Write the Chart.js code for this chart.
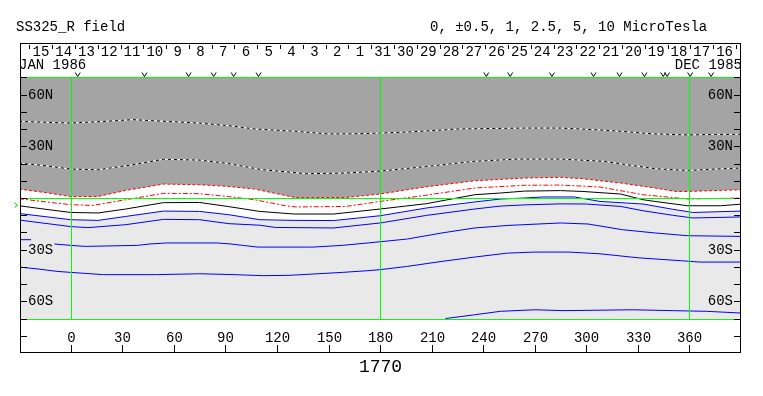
<!DOCTYPE html>
<html>
<head>
<meta charset="utf-8">
<script src="https://cdn.jsdelivr.net/npm/chart.js@4/dist/chart.umd.min.js"></script>
<style>
html, body { margin: 0; padding: 0; background: #fff; }
canvas { display: block; }
</style>
</head>
<body>
<canvas id="fieldChart" width="763" height="396"></canvas>
<script>
// contour lines, as [longitude, latitude]
const dottedNorth = [[-30,44.5],[-15,44.0],[0,43.5],[20,44.5],[36,45.5],[55,44.5],[75,43.5],[92,42.0],[107,40.1],[131,38.7],[150,37.2],[165,37.3],[180,37.7],[196,38.3],[226,40.1],[264,40.6],[285,40.6],[308,39.5],[321,38.7],[333,37.7],[340,37.2],[359,36.6],[375,36.9],[390,37.0]];
const dottedMid = [[-30,20.3],[-15,18.8],[0,16.8],[16,16.4],[36,19.3],[54,22.5],[75,22.0],[92,20.0],[110,16.6],[137,14.1],[160,14.5],[180,15.6],[207,18.3],[235,21.3],[260,22.6],[285,22.6],[310,21.3],[340,17.0],[359,16.0],[375,16.8],[390,17.4]];
const redDotted = [[-30,5.2],[-13,2.9],[0,0.8],[16,0.9],[32,4.4],[54,8.1],[75,7.7],[91,6.8],[107,5.2],[120,2.5],[131,0.2],[160,0.3],[180,2.3],[206,6.4],[235,10.0],[264,11.6],[285,12.0],[298,11.2],[320,8.7],[331,7.1],[340,5.8],[352,3.8],[359,3.8],[374,4.3],[390,4.8]];
const redDashDot = [[-30,-0.4],[-15,-2.2],[0,-3.9],[13,-4.3],[32,-1.0],[54,2.7],[75,2.5],[91,0.9],[107,-1.0],[125,-4.5],[131,-5.2],[160,-4.9],[180,-2.0],[206,1.5],[235,5.8],[264,7.4],[285,7.5],[308,6.4],[333,1.9],[353,0.0],[359,-0.6],[375,-0.3],[390,0.0]];
const zeroLine = [[-30,-4.5],[-15,-6.5],[0,-8.4],[16,-8.7],[32,-6.4],[54,-2.7],[75,-2.6],[92,-5.0],[110,-7.8],[130,-9.3],[153,-9.3],[180,-6.4],[207,-3.3],[235,1.9],[250,2.9],[264,4.0],[285,4.3],[298,3.8],[320,2.3],[333,-1.0],[340,-2.0],[359,-4.5],[378,-4.5],[390,-3.6]];
const blue1 = [[-30,-9.0],[-15,-10.8],[0,-12.6],[16,-13.0],[32,-10.7],[54,-7.6],[75,-7.8],[92,-9.7],[110,-12.6],[130,-13.0],[153,-13.1],[180,-10.3],[207,-5.8],[235,-2.3],[250,-0.6],[264,0.0],[275,0.6],[293,0.6],[308,-2.0],[333,-3.5],[350,-6.5],[362,-8.4],[390,-7.6]];
const blue2 = [[-30,-12.8],[-15,-14.7],[0,-16.6],[10,-17.2],[32,-15.5],[54,-12.4],[75,-12.6],[92,-14.9],[110,-15.8],[119,-17.1],[153,-17.4],[180,-14.5],[207,-10.1],[235,-6.4],[250,-4.7],[264,-4.0],[285,-3.4],[300,-3.5],[320,-4.9],[333,-7.4],[350,-10.0],[362,-11.6],[390,-11.0]];
const blue3 = [[-30,-24.2],[-23,-24.2],[-16,null],[-9.5,-26.7],[0,-27.5],[8.5,-28.1],[39,-27.5],[46,-26.7],[56,-26.1],[85,-26.1],[93,-26.7],[100,-27.5],[109,-28.5],[141,-28.5],[158,-27.5],[173,-26.1],[180,-25.4],[196,-23.8],[216,-20.3],[235,-17.4],[255,-15.9],[285,-14.5],[301,-15.1],[321,-18.4],[340,-20.3],[359,-21.9],[390,-22.3]];
const blue4 = [[-30,-40.1],[-19,-41.2],[-8,-42.6],[0,-43.2],[19,-44.5],[50,-44.5],[75,-44.0],[95,-44.5],[112,-45.1],[127,-44.9],[142,-44.1],[158,-43.2],[173,-42.2],[180,-41.6],[196,-39.7],[216,-36.8],[235,-34.3],[254,-32.0],[270,-31.4],[290,-31.4],[308,-32.4],[331,-34.8],[355,-36.4],[366,-37.2],[390,-37.2]];
const blue5 = [[218,-70],[235,-67.8],[250,-65.8],[270,-64.9],[287,-65.4],[327,-64.9],[350,-65.4],[370,-65.8],[390,-66.8]];

// axes
const lonTicks = [0, 30, 60, 90, 120, 150, 180, 210, 240, 270, 300, 330, 360];
const latTicks = [-80, -70, -60, -50, -40, -30, -20, -10, 0, 10, 20, 30, 40, 50, 60, 70];
const latLabels = { '60': '60N', '30': '30N', '-30': '30S', '-60': '60S' };
const greenLons = [0, 180, 360];
const greenLats = [70, 0, -70];
const equatorMark = -4.2;

// date strip along the top
const dayLabels = ['15','14','13','12','11','10','9','8','7','6','5','4','3','2','1','31','30','29','28','27','26','25','24','23','22','21','20','19','18','17','16'];
const dayEdges = [-24.0,-10.7,2.5,15.8,29.0,42.3,55.6,68.8,82.1,95.3,108.6,121.9,135.1,148.4,161.6,174.9,188.2,201.4,214.7,227.9,241.2,254.5,267.7,281.0,294.2,307.5,320.8,334.0,347.3,360.5,373.8,387.1];
const passLons = [4.1, 42.9, 68.6, 83.2, 94.8, 109.3, 241.8, 255.7, 280.0, 304.2, 319.3, 333.8, 344.7, 347.0, 360.4, 372.6];

const toPts = arr => arr.map(p => ({ x: p[0], y: p[1] }));
const FONT = '14px "Liberation Mono", "DejaVu Sans Mono", monospace';

function seg(ctx, x1, y1, x2, y2) {
    ctx.beginPath();
    ctx.moveTo(x1, y1);
    ctx.lineTo(x2, y2);
    ctx.stroke();
}

const overlay = {
    id: 'overlay',
    afterDatasetsDraw(chart) {
        const { ctx, chartArea: a, scales: { x, y } } = chart;
        const px = v => Math.round(x.getPixelForValue(v)) + 0.5;
        const py = v => Math.round(y.getPixelForValue(v)) + 0.5;
        ctx.save();
        ctx.lineWidth = 1;

        // green reference lines
        ctx.strokeStyle = '#00ff00';
        greenLats.forEach(v => seg(ctx, a.left, py(v), a.right, py(v)));
        greenLons.forEach(v => seg(ctx, px(v), py(70), px(v), py(-70)));

        // frame
        ctx.strokeStyle = '#000';
        ctx.strokeRect(a.left + 0.5, a.top + 0.5, a.right - a.left - 1, a.bottom - a.top - 1);

        // latitude ticks + labels, both sides, inside
        ctx.font = FONT;
        ctx.fillStyle = '#000';
        ctx.textBaseline = 'middle';
        latTicks.forEach(v => {
            const yy = py(v);
            seg(ctx, a.left, yy, a.left + 7, yy);
            seg(ctx, a.right - 7, yy, a.right, yy);
            const lab = latLabels[String(v)];
            if (lab) {
                ctx.textAlign = 'left';
                ctx.fillText(lab, a.left + 8, yy);
                ctx.textAlign = 'right';
                ctx.fillText(lab, a.right - 8, yy);
            }
        });

        // longitude ticks + labels
        ctx.textAlign = 'center';
        lonTicks.forEach(v => {
            const xx = px(v);
            seg(ctx, xx, a.bottom - 8, xx, a.bottom);
            ctx.fillText(String(v), xx, a.bottom - 15);
        });

        // date strip
        ctx.textBaseline = 'alphabetic';
        dayEdges.forEach(v => seg(ctx, px(v), a.top + 2, px(v), a.top + 6));
        dayLabels.forEach((d, i) => {
            const cx = (x.getPixelForValue(dayEdges[i]) + x.getPixelForValue(dayEdges[i + 1])) / 2;
            ctx.fillText(d, cx, a.top + 13);
        });
        ctx.textAlign = 'left';
        ctx.fillText('JAN 1986', a.left - 1, a.top + 26);
        ctx.textAlign = 'right';
        ctx.fillText('DEC 1985', a.right + 1, a.top + 26);

        // pass markers
        passLons.forEach(v => {
            const xx = x.getPixelForValue(v);
            ctx.beginPath();
            ctx.moveTo(xx - 2.5, a.top + 29.5);
            ctx.lineTo(xx, a.top + 33.5);
            ctx.lineTo(xx + 2.5, a.top + 29.5);
            ctx.stroke();
        });

        // equator marker outside the left edge
        ctx.strokeStyle = '#00cc00';
        const ey = y.getPixelForValue(equatorMark);
        ctx.beginPath();
        ctx.moveTo(14.5, ey - 2.5);
        ctx.lineTo(17.5, ey);
        ctx.lineTo(14.5, ey + 2.5);
        ctx.stroke();

        // titles
        ctx.fillStyle = '#000';
        ctx.textAlign = 'left';
        ctx.fillText('SS325_R field', 16, 31);
        ctx.fillText('0, \u00b10.5, 1, 2.5, 5, 10 MicroTesla', 430, 31);
        ctx.textAlign = 'center';
        ctx.textBaseline = 'middle';
        ctx.font = '18px "Liberation Mono", "DejaVu Sans Mono", monospace';
        ctx.fillText('1770', (a.left + a.right) / 2, 367);
        ctx.restore();
    }
};

new Chart(document.getElementById('fieldChart'), {
    type: 'line',
    data: {
        datasets: [
            { data: toPts(dottedNorth), borderColor: '#000', borderDash: [3, 3] },
            { data: toPts(dottedNorth), borderColor: '#fff' },
            { data: toPts(dottedMid), borderColor: '#000', borderDash: [3, 3] },
            { data: toPts(dottedMid), borderColor: '#fff' },
            { data: toPts(redDotted), borderColor: '#ff0000', borderDash: [3, 2], fill: { value: 70 }, backgroundColor: '#a4a4a4' },
            { data: toPts(redDashDot), borderColor: '#ff0000', borderDash: [5, 2, 2, 2] },
            { data: toPts(zeroLine), borderColor: '#000' },
            { data: toPts(blue1), borderColor: '#0000ff', fill: { value: -70 }, backgroundColor: '#e9e9e9' },
            { data: toPts(blue2), borderColor: '#0000ff' },
            { data: toPts(blue3), borderColor: '#0000ff' },
            { data: toPts(blue4), borderColor: '#0000ff' },
            { data: toPts(blue5), borderColor: '#0000ff' }
        ]
    },
    options: {
        responsive: false,
        animation: false,
        events: [],
        layout: { padding: { left: 20, right: 22, top: 43, bottom: 43 } },
        elements: { point: { radius: 0 }, line: { borderWidth: 1, tension: 0, fill: false } },
        spanGaps: false,
        scales: {
            x: { type: 'linear', min: -29.5, max: 390, display: false },
            y: { type: 'linear', min: -90, max: 90, display: false }
        },
        plugins: {
            legend: { display: false },
            tooltip: { enabled: false },
            filler: { drawTime: 'beforeDatasetsDraw' }
        }
    },
    plugins: [overlay]
});
</script>
</body>
</html>
